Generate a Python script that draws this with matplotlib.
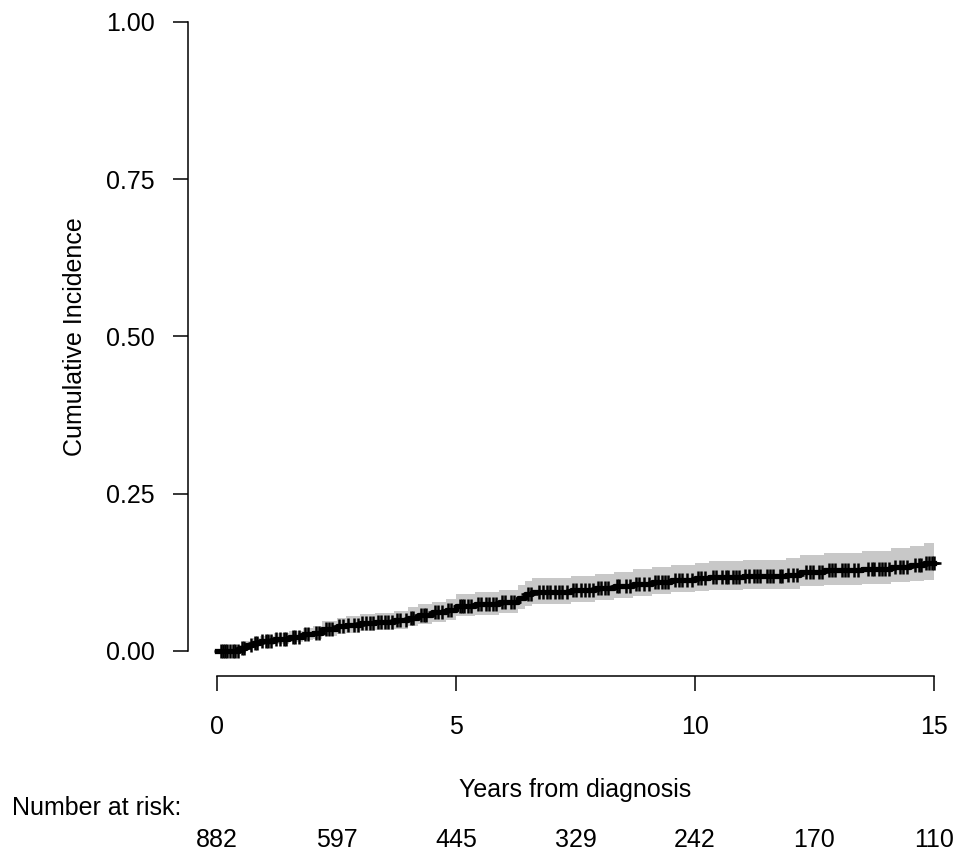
import numpy as np
import matplotlib
matplotlib.use("Agg")
import matplotlib.pyplot as plt
from matplotlib.transforms import blended_transform_factory

plt.rcParams['font.family'] = ['Liberation Sans', 'DejaVu Sans']

# step curve: event times (years) and cumulative incidence with CI
times = [0, 0.45, 0.6, 0.75, 0.9, 1.2, 1.5, 1.8, 2.0, 2.2, 2.5, 2.7, 3.0, 3.3, 3.7,
         4.0, 4.2, 4.5, 4.8, 5.0, 5.4, 5.9, 6.3, 6.45, 6.6, 7.4, 7.9, 8.3, 8.7, 9.1,
         9.5, 10.0, 10.3, 11.0, 11.9, 12.2, 12.7, 13.5, 14.1, 14.5, 14.8, 15.0]
cuminc = [0, 0.004, 0.010, 0.013, 0.016, 0.019, 0.022, 0.026, 0.029, 0.035, 0.039,
          0.041, 0.044, 0.046, 0.049, 0.053, 0.057, 0.061, 0.065, 0.071, 0.074, 0.077,
          0.084, 0.090, 0.094, 0.097, 0.100, 0.103, 0.107, 0.110, 0.113, 0.116, 0.118,
          0.119, 0.121, 0.125, 0.128, 0.130, 0.133, 0.136, 0.139, 0.139]
lower = [0, 0.001, 0.005, 0.007, 0.009, 0.011, 0.014, 0.017, 0.019, 0.024, 0.027,
         0.029, 0.031, 0.033, 0.035, 0.039, 0.042, 0.046, 0.049, 0.055, 0.057, 0.060,
         0.067, 0.072, 0.075, 0.078, 0.081, 0.084, 0.087, 0.090, 0.093, 0.095, 0.097,
         0.098, 0.099, 0.103, 0.105, 0.106, 0.109, 0.111, 0.113, 0.113]
upper = [0, 0.009, 0.016, 0.020, 0.024, 0.028, 0.031, 0.036, 0.040, 0.047, 0.052,
         0.055, 0.058, 0.060, 0.064, 0.069, 0.074, 0.078, 0.083, 0.090, 0.094, 0.097,
         0.104, 0.111, 0.116, 0.119, 0.122, 0.126, 0.130, 0.133, 0.137, 0.140, 0.143,
         0.145, 0.148, 0.152, 0.156, 0.159, 0.163, 0.167, 0.172, 0.172]

# censoring times (marks on the curve)
censor_times = [0.08, 0.12, 0.17, 0.21, 0.27, 0.33, 0.38, 0.43, 0.52, 0.57, 0.7, 0.79,
                0.83, 0.94, 1.02, 1.07, 1.13, 1.24, 1.31, 1.39, 1.44, 1.58, 1.63, 1.72,
                1.84, 1.9, 2.06, 2.13, 2.27, 2.34, 2.41, 2.55, 2.63, 2.74, 2.86, 2.95,
                3.04, 3.12, 3.19, 3.26, 3.37, 3.44, 3.52, 3.58, 3.66, 3.77, 3.83, 3.95,
                4.06, 4.11, 4.27, 4.33, 4.38, 4.55, 4.62, 4.71, 4.84, 4.9, 5.08, 5.12,
                5.17, 5.25, 5.31, 5.46, 5.52, 5.63, 5.7, 5.77, 5.84, 5.96, 6.02, 6.14,
                6.22, 6.5, 6.56, 6.74, 6.83, 6.91, 6.97, 7.08, 7.15, 7.21, 7.33, 7.44,
                7.52, 7.61, 7.7, 7.78, 7.86, 7.97, 8.04, 8.12, 8.19, 8.36, 8.41, 8.55,
                8.63, 8.76, 8.82, 8.94, 9.03, 9.16, 9.22, 9.31, 9.37, 9.44, 9.58, 9.66,
                9.72, 9.83, 9.94, 10.07, 10.12, 10.21, 10.38, 10.44, 10.57, 10.64, 10.7,
                10.79, 10.86, 10.93, 11.04, 11.12, 11.24, 11.3, 11.36, 11.51, 11.58,
                11.64, 11.77, 11.83, 11.95, 12.05, 12.14, 12.33, 12.41, 12.48, 12.59,
                12.66, 12.81, 12.87, 12.92, 13.08, 13.14, 13.21, 13.33, 13.42, 13.62,
                13.7, 13.74, 13.86, 13.91, 13.97, 14.06, 14.19, 14.28, 14.36, 14.43,
                14.61, 14.68, 14.73, 14.84, 14.9, 14.96, 15.0]

risk_times = [0, 2.5, 5, 7.5, 10, 12.5, 15]
n_risk = [882, 597, 445, 329, 242, 170, 110]

fig = plt.figure(figsize=(9.59, 8.59), dpi=100)
ax = fig.add_axes([188.4 / 959, 183 / 859, 774.2 / 959, 679.2 / 859])
ax.set_xlim(-0.6, 15.6)
ax.set_ylim(-0.04, 1.04)

ax.fill_between(times, lower, upper, step='post', color='#c8c8c8', lw=0)
ax.step(times, cuminc, where='post', color='black', lw=3.8)

idx = np.searchsorted(times, censor_times, side='right') - 1
cy = np.array(cuminc)[idx]
ax.plot(censor_times, cy, ls='none', marker='+', color='black', ms=10, mew=1.8)

for s in ['top', 'right']:
    ax.spines[s].set_visible(False)
ax.spines['left'].set_bounds(0, 1)
ax.spines['bottom'].set_bounds(0, 15)
for s in ['left', 'bottom']:
    ax.spines[s].set_linewidth(1.1)

ax.set_xticks([0, 5, 10, 15])
ax.set_yticks([0, 0.25, 0.5, 0.75, 1.0])
ax.set_yticklabels(['0.00', '0.25', '0.50', '0.75', '1.00'])
ax.tick_params(axis='both', length=11, width=1.1, labelsize=18, direction='out')
ax.tick_params(axis='y', pad=13)
ax.tick_params(axis='x', pad=17)

ax.set_ylabel('Cumulative Incidence', fontsize=18, labelpad=14)

trans = blended_transform_factory(ax.transData, fig.transFigure)
ax.text(7.5, 1 - 790 / 859, 'Years from diagnosis', transform=trans,
        ha='center', va='center', fontsize=18)
fig.text(12 / 959, 1 - 808 / 859, 'Number at risk:', ha='left', va='center', fontsize=18)
for t, n in zip(risk_times, n_risk):
    ax.text(t, 1 - 840 / 859, str(n), transform=trans, ha='center', va='center',
            fontsize=18, clip_on=False)

fig.savefig('out.png', dpi=100)
